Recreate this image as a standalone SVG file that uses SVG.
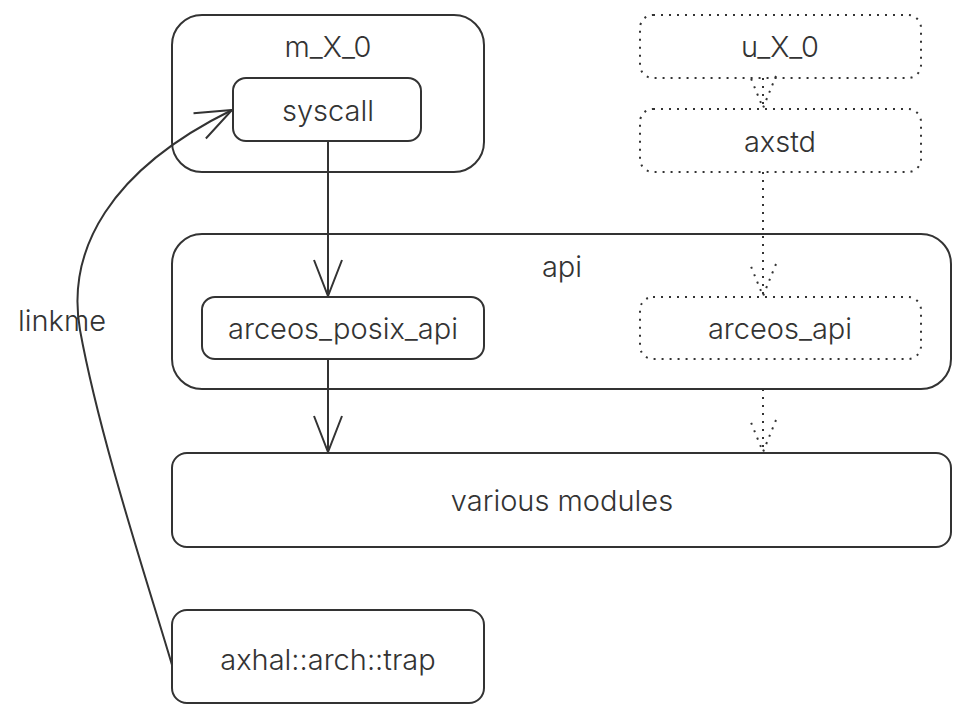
<svg xmlns="http://www.w3.org/2000/svg" width="968" height="719" viewBox="0 0 968 719">
<defs>
<style>
.box{fill:#fff;stroke:#333;stroke-width:2}
.dot{fill:#fff;stroke:#333;stroke-width:2;stroke-dasharray:2 6}
.t{font-family:Inter,"Noto Sans",sans-serif;font-size:29px;font-weight:300;fill:#333;text-anchor:middle;dominant-baseline:central}
.e{fill:none;stroke:#333;stroke-width:2}
.ed{fill:none;stroke:#333;stroke-width:2;stroke-dasharray:2 6}
</style>
<marker id="arr" viewBox="-40 -16 42 32" refX="0" refY="0" markerWidth="42" markerHeight="32" markerUnits="userSpaceOnUse" orient="auto">
<path d="M-36,-14 L0,0 L-36,14" fill="none" stroke="#333" stroke-width="2"/>
</marker>
<marker id="arrd" viewBox="-40 -16 42 32" refX="0" refY="0" markerWidth="42" markerHeight="32" markerUnits="userSpaceOnUse" orient="auto">
<path d="M-32,-13 L0,0 L-32,13" fill="none" stroke="#333" stroke-width="2" stroke-dasharray="2 6"/>
</marker>
</defs>
<rect width="968" height="719" fill="#fff"/>
<g id="m_X_0"><rect class="box" x="172" y="15" width="312" height="157" rx="30"/><text class="t" x="328" y="46">m_X_0</text></g>
<g id="api"><rect class="box" x="172" y="234" width="779" height="155" rx="30"/><text class="t" x="562" y="266">api</text></g>
<g id="syscall"><rect class="box" x="233" y="78" width="188" height="63" rx="13"/><text class="t" x="328" y="110">syscall</text></g>
<g id="u_X_0"><rect class="dot" x="640" y="15" width="281" height="63" rx="13"/><text class="t" x="780" y="46">u_X_0</text></g>
<g id="axstd"><rect class="dot" x="640" y="109" width="281" height="63" rx="13"/><text class="t" x="780" y="141">axstd</text></g>
<g id="arceos_posix_api"><rect class="box" x="202" y="297" width="282" height="62" rx="13"/><text class="t" x="343" y="328">arceos_posix_api</text></g>
<g id="arceos_api"><rect class="dot" x="640" y="297" width="281" height="62" rx="13"/><text class="t" x="780" y="328">arceos_api</text></g>
<g id="various_modules"><rect class="box" x="172" y="453" width="779" height="94" rx="15"/><text class="t" x="562" y="500">various modules</text></g>
<g id="trap"><rect class="box" x="172" y="610" width="312" height="93" rx="15"/><text class="t" x="328" y="659">axhal::arch::trap</text></g>
<g id="edges">
<path class="e" d="M328,141 L328,296" marker-end="url(#arr)"/>
<path class="e" d="M328,359 L328,452" marker-end="url(#arr)"/>
<path class="ed" d="M763,78 L763,108" marker-end="url(#arrd)"/>
<path class="ed" d="M763,172 L763,296" marker-end="url(#arrd)"/>
<path class="ed" d="M763,389 L763,452" marker-end="url(#arrd)"/>
<path class="e" d="M172,665 C150,590 100,440 80,330 C66,250 110,170 232,110" marker-end="url(#arr)"/>
<text class="t" x="62" y="320">linkme</text>
</g>
</svg>
